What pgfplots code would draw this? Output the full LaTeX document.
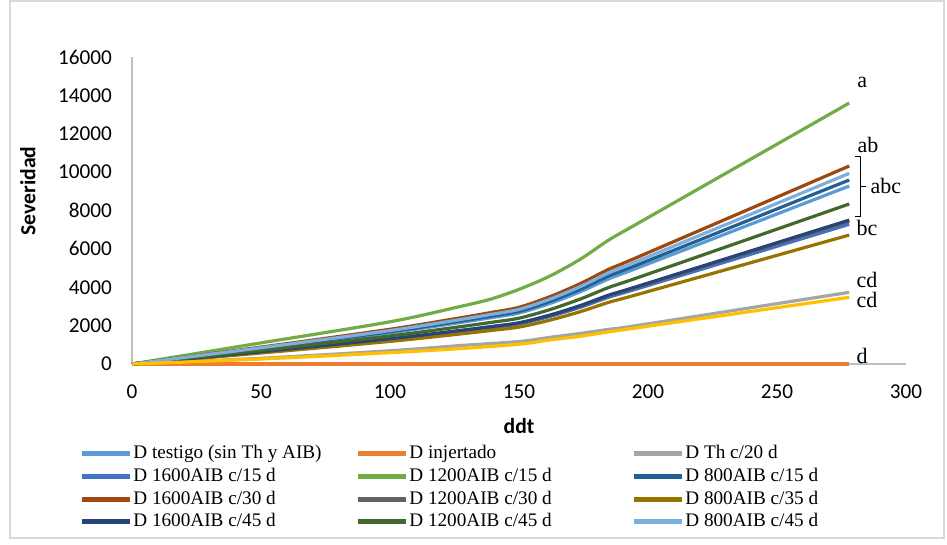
\documentclass[border=0pt]{standalone}
\usepackage{fontspec}
\setmainfont{Liberation Serif}
\newfontfamily\calibri{Carlito}
\usepackage{pgfplots}
\pgfplotsset{compat=1.18}
\definecolor{cTest}{HTML}{5B9BD5}
\definecolor{cInj}{HTML}{ED7D31}
\definecolor{cTh}{HTML}{A5A5A5}
\definecolor{cA}{HTML}{4472C4}
\definecolor{cB}{HTML}{70AD47}
\definecolor{cC}{HTML}{255E91}
\definecolor{cD}{HTML}{9E480E}
\definecolor{cE}{HTML}{636363}
\definecolor{cF}{HTML}{997300}
\definecolor{cG}{HTML}{264478}
\definecolor{cH}{HTML}{43682B}
\definecolor{cI}{HTML}{7CAFDD}
\definecolor{cY}{HTML}{FFC000}
\definecolor{frame}{HTML}{D9D9D9}
\definecolor{axgray}{HTML}{BFBFBF}
\newcommand{\lt}[1]{\makebox[106pt][l]{#1}}
\begin{document}
\begin{tikzpicture}
\useasboundingbox (-66pt,-90.5pt) rectangle (407.5pt,182pt);
\draw[frame, line width=0.6pt] (-61pt,-87pt) rectangle (406pt,181.5pt);
\begin{axis}[
  scale only axis, width=387pt, height=153.5pt,
  xmin=0, xmax=300, ymin=0, ymax=16000,
  xtick={0,50,...,300}, ytick={0,2000,...,16000},
  scaled y ticks=false,
  axis lines*=left,
  axis line style={axgray, line width=0.8pt},
  tick style={draw=none},
  clip=false,
  /pgf/number format/assume math mode=true,
  /pgf/number format/1000 sep={},
  ticklabel style={font=\calibri\fontsize{10.6}{12}\selectfont, text=black},
  xticklabel style={yshift=-7pt},
  yticklabel style={xshift=-6.5pt},
  xlabel={\calibri\bfseries ddt},
  ylabel={\calibri\bfseries Severidad},
  label style={font=\fontsize{10.8}{12}\selectfont},
  xlabel style={at={(axis description cs:0.5,-0.202)}, anchor=center},
  ylabel style={at={(axis description cs:-0.1344,0.5635)}, anchor=center},
  every axis plot/.append style={line width=1.6pt, smooth, tension=0.5},
  legend columns=3,
  legend cell align=left,
  legend image code/.code={\draw[#1, line width=2.5pt] (0pt,0pt) -- (24pt,0pt);},
  legend style={draw=none, fill=none, inner sep=0pt,
    at={(axis description cs:-0.0685,-0.262)}, anchor=north west,
    font=\fontsize{9.6}{11}\selectfont,
    nodes={inner xsep=0.5pt, inner ysep=0pt, text height=7pt, text depth=2pt},
    row sep=2.3pt,
    /tikz/every even column/.append style={column sep=4.5pt}},
]
\addplot[cTest] coordinates {(0,0) (50,791) (100,1627) (127,2158) (139,2409) (150,2657) (162,3155) (174,3780) (185,4450) (197,5060) (278,9275)};
\addlegendentry{\lt{D testigo (sin Th y AIB)}}
\addplot[cInj] coordinates {(0,0) (50,0) (100,0) (150,0) (200,0) (278,0)};
\addlegendentry{\lt{D injertado}}
\addplot[cTh] coordinates {(0,0) (50,300) (100,690) (127,960) (150,1170) (162,1390) (174,1600) (185,1810) (197,2032) (278,3735)};
\addlegendentry{\lt{D Th c/20 d}}
\addplot[cA] coordinates {(0,0) (50,620) (100,1276) (127,1692) (139,1889) (150,2083) (162,2475) (174,2965) (185,3490) (197,3968) (278,7280)};
\addlegendentry{\lt{D 1600AIB c/15 d}}
\addplot[cB] coordinates {(0,0) (50,1100) (100,2200) (127,2990) (139,3380) (150,3890) (162,4585) (174,5480) (185,6480) (197,7400) (278,13600)};
\addlegendentry{\lt{D 1200AIB c/15 d}}
\addplot[cC] coordinates {(0,0) (50,818) (100,1682) (127,2230) (139,2490) (150,2745) (162,3261) (174,3906) (185,4599) (197,5228) (278,9590)};
\addlegendentry{\lt{D 800AIB c/15 d}}
\addplot[cD] coordinates {(0,0) (50,880) (100,1810) (127,2400) (139,2680) (150,2955) (162,3510) (174,4205) (185,4950) (197,5628) (278,10320)};
\addlegendentry{\lt{D 1600AIB c/30 d}}
\addplot[cE] coordinates {(0,0) (50,634) (100,1303) (127,1728) (139,1930) (150,2128) (162,2527) (174,3028) (185,3564) (197,4052) (278,7430)};
\addlegendentry{\lt{D 1200AIB c/30 d}}
\addplot[cF] coordinates {(0,0) (50,573) (100,1178) (127,1562) (139,1745) (150,1924) (162,2285) (174,2737) (185,3222) (197,3664) (278,6720)};
\addlegendentry{\lt{D 800AIB c/35 d}}
\addplot[cG] coordinates {(0,0) (50,640) (100,1316) (127,1745) (139,1948) (150,2148) (162,2552) (174,3057) (185,3599) (197,4092) (278,7500)};
\addlegendentry{\lt{D 1600AIB c/45 d}}
\addplot[cH] coordinates {(0,0) (50,711) (100,1462) (127,1939) (139,2165) (150,2388) (162,2836) (174,3398) (185,4000) (197,4547) (278,8340)};
\addlegendentry{\lt{D 1200AIB c/45 d}}
\addplot[cI] coordinates {(0,0) (50,847) (100,1743) (127,2311) (139,2581) (150,2846) (162,3380) (174,4049) (185,4767) (197,5420) (278,9935)};
\addlegendentry{\lt{D 800AIB c/45 d}}
\addplot[cY, forget plot] coordinates {(0,0) (50,260) (100,590) (127,800) (150,1030) (162,1250) (174,1450) (185,1680) (197,1910) (278,3475)};
% annotations
\begin{scope}[font=\fontsize{11}{12}\selectfont]
\node[anchor=center] at (axis cs:283,14695) {a};
\node[anchor=center] at (axis cs:285.3,11412) {ab};
\node[anchor=center] at (axis cs:292.2,9276) {abc};
\node[anchor=center] at (axis cs:284.9,7087) {bc};
\node[anchor=center] at (axis cs:284.9,4377) {cd};
\node[anchor=center] at (axis cs:284.9,3335) {cd};
\node[anchor=center] at (axis cs:283,417) {d};
\end{scope}
\draw[black, line width=0.5pt] (axis cs:280.2,10840) -- (axis cs:282.2,10840) -- (axis cs:282.2,7710) -- (axis cs:280.2,7710);
\draw[black, line width=0.5pt] (axis cs:282.2,9276) -- (axis cs:284.3,9276);
\end{axis}
\end{tikzpicture}
\end{document}
